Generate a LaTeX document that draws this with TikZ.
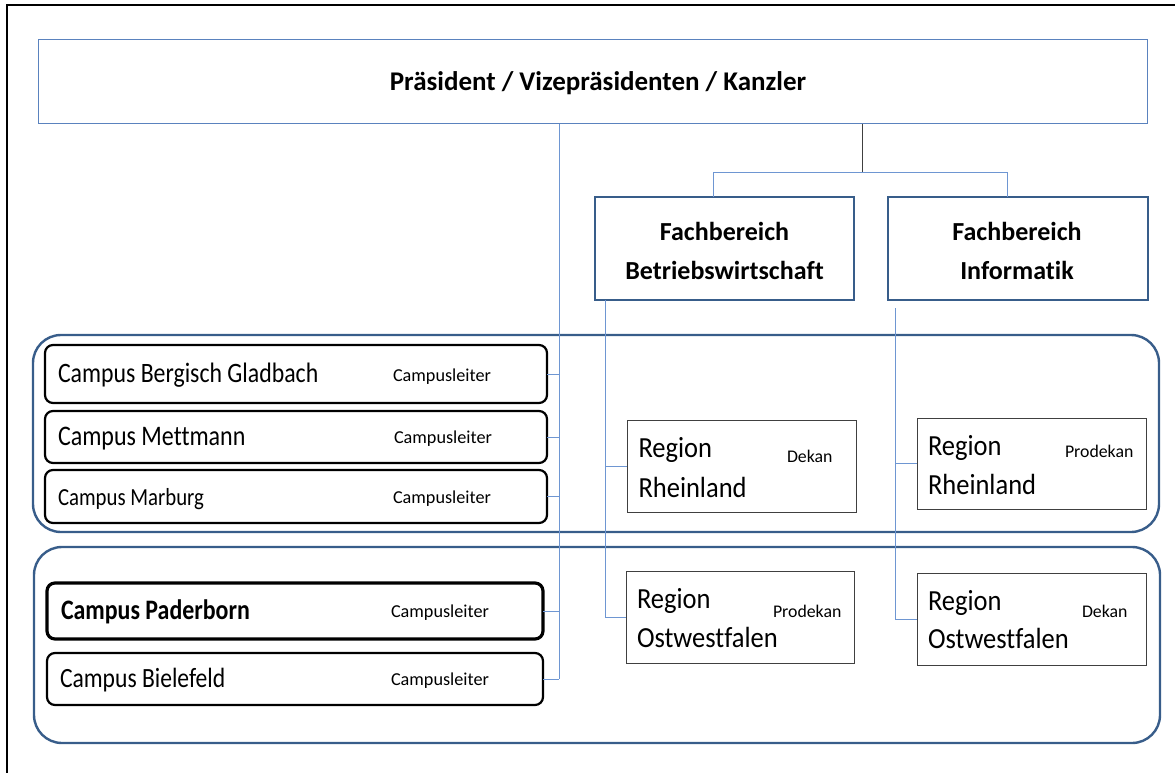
\documentclass[tikz,border=0pt]{standalone}
\usepackage{fontspec}
\setmainfont{Carlito}[Ligatures=CommonOff]
\definecolor{dkblue}{RGB}{56,93,138}
\definecolor{ltline}{RGB}{110,150,210}
\definecolor{topborder}{RGB}{90,130,190}
\definecolor{rgborder}{RGB}{64,64,64}
\newcommand{\tallc}[1]{\scalebox{1}[1.18]{#1}}
\newcommand{\tallr}[1]{\scalebox{1}[1.1]{#1}}
\begin{document}
\begin{tikzpicture}[x=1pt,y=-1pt,
  box/.style={anchor=north west, inner sep=0pt, outer sep=0pt},
  groupbox/.style={box, draw=dkblue, line width=2.4pt, rounded corners=28pt},
  topbox/.style={box, draw=topborder, line width=1pt},
  fbbox/.style={box, draw=dkblue, line width=2.6pt},
  campusbox/.style={box, draw=black, line width=2.2pt, rounded corners=8pt},
  regionbox/.style={box, draw=rgborder, line width=1pt},
  txt/.style={inner sep=0pt, outer sep=0pt, anchor=base west},
  ctxt/.style={inner sep=0pt, outer sep=0pt, anchor=base},
  conn/.style={draw=ltline, line width=0.9pt},
  darkconn/.style={draw=rgborder, line width=0.9pt},
  frame/.style={draw=black, line width=2pt}
]
\useasboundingbox (0,0) rectangle (1175,773);
% outer frame (top and left only)
\coordinate (frTL) at (7,5);
\coordinate (frTR) at (1175,5);
\coordinate (frBL) at (7,773);
\draw[frame] (frBL) -- (frTL) -- (frTR);

% group boxes
\node[groupbox, minimum width=1126pt, minimum height=197pt] (g1) at (33,335) {};
\node[groupbox, minimum width=1126pt, minimum height=196pt] (g2) at (34,547) {};

% top box
\node[topbox, minimum width=1109pt, minimum height=84pt] (pres) at (38,40) {};
\node[ctxt, font=\fontsize{27}{32}\selectfont\bfseries] (prestxt) at (598,91) {Präsident / Vizepräsidenten / Kanzler};

% Fachbereich boxes
\node[fbbox, minimum width=259pt, minimum height=103pt] (fbw) at (595,197) {};
\node[fbbox, minimum width=260pt, minimum height=103pt] (finf) at (888,197) {};
\node[ctxt, font=\fontsize{26}{30}\selectfont\bfseries] (fbw1) at (724.5,240) {Fachbereich};
\node[ctxt, font=\fontsize{26}{30}\selectfont\bfseries] (fbw2) at (724.5,279) {Betriebswirtschaft};
\node[ctxt, font=\fontsize{26}{30}\selectfont\bfseries] (finf1) at (1017,240) {Fachbereich};
\node[ctxt, font=\fontsize{26}{30}\selectfont\bfseries] (finf2) at (1017,279) {Informatik};

% campus boxes
\node[campusbox, minimum width=502pt, minimum height=58pt] (bg) at (45,345) {};
\node[campusbox, minimum width=502pt, minimum height=52pt] (mett) at (45,411) {};
\node[campusbox, minimum width=502pt, minimum height=53pt] (marb) at (45,470) {};
\node[campusbox, line width=3.2pt, minimum width=496pt, minimum height=56pt] (pb) at (47,583) {};
\node[campusbox, minimum width=496pt, minimum height=52pt] (bf) at (47,653) {};

\node[txt, font=\fontsize{23.8}{28}\selectfont] (bgt) at (58,382.5) {\tallc{Campus Bergisch Gladbach}};
\node[txt, font=\fontsize{18.2}{22}\selectfont] (bgl) at (393,381) {Campusleiter};
\node[txt, font=\fontsize{24}{28}\selectfont] (mettt) at (58,445) {\tallc{Campus Mettmann}};
\node[txt, font=\fontsize{18.2}{22}\selectfont] (mettl) at (394,443.5) {Campusleiter};
\node[txt, font=\fontsize{20.8}{25}\selectfont] (marbt) at (58,505) {\tallc{Campus Marburg}};
\node[txt, font=\fontsize{18.2}{22}\selectfont] (marbl) at (393,503.5) {Campusleiter};
\node[txt, font=\fontsize{23.9}{28}\selectfont\bfseries] (pbt) at (61,619) {\tallc{Campus Paderborn}};
\node[txt, font=\fontsize{18.2}{22}\selectfont] (pbl) at (391,617.5) {Campusleiter};
\node[txt, font=\fontsize{23.6}{28}\selectfont] (bft) at (60,687) {\tallc{Campus Bielefeld}};
\node[txt, font=\fontsize{18.2}{22}\selectfont] (bfl) at (391,685) {Campusleiter};

% region boxes
\node[regionbox, minimum width=229pt, minimum height=92pt] (rbw) at (627,420) {};
\node[regionbox, minimum width=229pt, minimum height=91pt] (rinf) at (917,418) {};
\node[regionbox, minimum width=228pt, minimum height=92pt] (obw) at (626,571) {};
\node[regionbox, minimum width=229pt, minimum height=92pt] (oinf) at (917,573) {};

\node[txt, font=\fontsize{26.5}{30}\selectfont] (rbw1) at (638.5,457) {\tallr{Region}};
\node[txt, font=\fontsize{26.5}{30}\selectfont] (rbw2) at (638.5,497) {\tallr{Rheinland}};
\node[txt, font=\fontsize{17.8}{22}\selectfont] (rbwl) at (787,462) {Dekan};
\node[txt, font=\fontsize{26.5}{30}\selectfont] (rinf1) at (928,455) {\tallr{Region}};
\node[txt, font=\fontsize{26.5}{30}\selectfont] (rinf2) at (928,494) {\tallr{Rheinland}};
\node[txt, font=\fontsize{17.8}{22}\selectfont] (rinfl) at (1065,457.5) {Prodekan};
\node[txt, font=\fontsize{26.5}{30}\selectfont] (obw1) at (637,608) {\tallr{Region}};
\node[txt, font=\fontsize{26.5}{30}\selectfont] (obw2) at (637,647) {\tallr{Ostwestfalen}};
\node[txt, font=\fontsize{17.8}{22}\selectfont] (obwl) at (773,617.5) {Prodekan};
\node[txt, font=\fontsize{26.5}{30}\selectfont] (oinf1) at (928,610) {\tallr{Region}};
\node[txt, font=\fontsize{26.5}{30}\selectfont] (oinf2) at (928,648.5) {\tallr{Ostwestfalen}};
\node[txt, font=\fontsize{17.8}{22}\selectfont] (oinfl) at (1082,617.5) {Dekan};

% connectors: campus trunk
\coordinate (tx) at (559,0);
\draw[conn] (pres.south -| tx) -- (tx |- bf.east);
\draw[conn] (bg.east) -- (bg.east -| tx);
\draw[conn] (mett.east) -- (mett.east -| tx);
\draw[conn] (marb.east) -- (marb.east -| tx);
\draw[conn] (pb.east) -- (pb.east -| tx);
\draw[conn] (bf.east) -- (bf.east -| tx);

% connectors: Fachbereiche
\coordinate (fx) at (862,172);
\coordinate (fj1) at (713,172);
\coordinate (fj2) at (1007,172);
\draw[darkconn] (pres.south -| fx) -- (fx);
\draw[conn] (fbw.north -| fj1) -- (fj1) -- (fj2) -- (finf.north -| fj2);

% connectors: regions
\coordinate (bx) at (605,0);
\draw[conn] (fbw.south -| bx) -- (bx |- obw.west) -- (obw.west);
\draw[conn] (bx |- rbw.west) -- (rbw.west);
\coordinate (ix) at (895,308);
\draw[conn] (ix) -- (ix |- oinf.west) -- (oinf.west);
\draw[conn] (ix |- rinf.west) -- (rinf.west);
\end{tikzpicture}
\end{document}
